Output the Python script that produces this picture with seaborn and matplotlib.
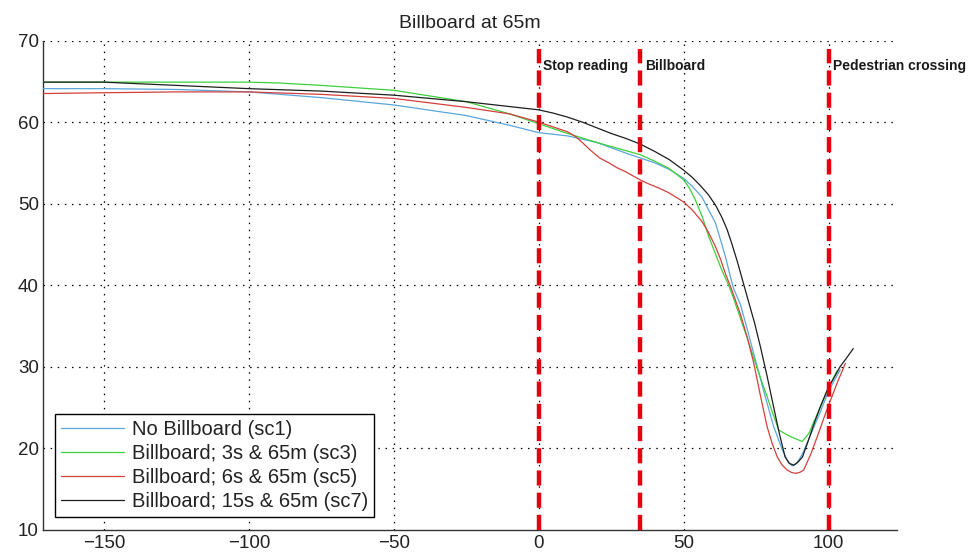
import matplotlib
matplotlib.use("Agg")
import matplotlib.pyplot as plt
import numpy as np
import pandas as pd
import seaborn as sns

# Series: distance (m) vs speed (km/h)
sc1_x = [-171, -150, -125, -100, -75, -50, -25, -10, 0, 10, 20, 30, 35, 40, 45, 50, 53, 56.3, 58.5,
         61, 63, 64.4, 66, 67.2, 69.6, 72, 75, 78, 81, 84, 86, 87.5, 89, 91, 94, 97, 100, 104]
sc1_y = [64.1, 64.1, 64.0, 63.7, 63.0, 62.1, 60.8, 59.6, 58.7, 58.3, 57.5, 56.2, 55.6, 55.0, 54.2, 53.1,
         52.1, 50.8, 49.3, 47.6, 45.2, 43.5, 41.2, 39.6, 37.6, 34.5, 30.5, 26.5, 22.7, 19.8, 18.3, 17.8,
         18.1, 19.3, 21.8, 24.3, 27.0, 29.6]

sc3_x = [-171, -150, -125, -100, -90, -75, -50, -25, -10, 0, 10, 20, 30, 35, 40, 45, 50, 52, 54.1,
         56.5, 58.7, 61, 63.2, 65.5, 67.2, 69.6, 72.2, 74.8, 76.8, 78.8, 80.8, 82.8, 84.8, 86.9, 88.9,
         90.9, 93.2, 95, 97.2, 100.7, 103]
sc3_y = [64.9, 64.9, 64.9, 64.9, 64.8, 64.5, 63.9, 62.5, 61.0, 59.8, 58.6, 57.5, 56.5, 56.0, 55.2, 54.3,
         52.9, 51.9, 50.4, 48.3, 45.9, 43.8, 41.8, 40.0, 38.4, 35.9, 33.2, 30.4, 28.3, 26.3, 24.2, 22.2,
         21.8, 21.4, 21.1, 20.8, 21.8, 23.3, 25.1, 27.9, 29.5]

sc5_x = [-171, -150, -125, -100, -75, -50, -25, -10, 0, 5, 10, 12.8, 15, 18, 21, 24.2, 27, 30, 33,
         35, 38, 41.5, 45, 50, 53, 56.3, 58.5, 61, 62.8, 64.4, 66.4, 68.4, 69.6, 72, 74.2, 76.5, 78.8,
         80.5, 82.3, 84, 85.7, 87.2, 88.6, 90, 91.4, 93.8, 96.1, 98.4, 100.7, 103.2, 105.8]
sc5_y = [63.5, 63.6, 63.7, 63.7, 63.4, 62.9, 61.8, 61.0, 60.0, 59.4, 58.8, 58.2, 57.5, 56.5, 55.6, 55.0,
         54.4, 53.9, 53.3, 52.9, 52.4, 51.9, 51.3, 50.2, 49.2, 47.8, 46.5, 44.7, 43.1, 41.4, 39.6, 37.6,
         36.4, 33.5, 30.4, 26.4, 22.6, 20.6, 18.9, 17.9, 17.3, 17.0, 16.9, 17.0, 17.3, 19.2, 21.4, 23.7,
         25.9, 28.2, 30.4]

sc7_x = [-171, -150, -144, -125, -100, -75, -50, -25, -10, 0, 5, 10, 15, 20, 25, 30, 35, 40, 45, 50,
         53, 55.5, 58.5, 61, 63.2, 65, 66.6, 68.5, 70, 72.2, 74.5, 76.5, 78.8, 81, 83, 85, 86.5, 88,
         89.5, 91, 93, 95, 97.2, 99.5, 101.8, 104, 106.3, 108.5]
sc7_y = [64.9, 64.9, 64.8, 64.5, 64.1, 63.8, 63.3, 62.5, 61.9, 61.5, 61.1, 60.6, 60.0, 59.3, 58.6, 58.0,
         57.3, 56.4, 55.4, 54.1, 53.2, 52.3, 51.1, 49.8, 48.3, 46.8, 45.1, 42.9, 41.0, 38.2, 35.3, 32.4,
         28.8, 25.1, 21.8, 18.9, 18.1, 17.9, 18.3, 18.9, 20.9, 23.0, 25.1, 27.1, 28.6, 30.0, 31.1, 32.2]

labels = ["No Billboard (sc1)", "Billboard; 3s & 65m (sc3)",
          "Billboard; 6s & 65m (sc5)", "Billboard; 15s & 65m (sc7)"]
colors = ["#5aa6dc", "#3dd03d", "#d2403c", "#1e1e1e"]

event_x = [0, 35, 100]
event_labels = ["Stop reading", "Billboard", "Pedestrian crossing"]
event_top = 69

x_ticks = [-150, -100, -50, 0, 50, 100]
y_ticks = [10, 20, 30, 40, 50, 60, 70]

frames = []
for lab, xs, ys in zip(labels, [sc1_x, sc3_x, sc5_x, sc7_x], [sc1_y, sc3_y, sc5_y, sc7_y]):
    frames.append(pd.DataFrame({"distance": xs, "speed": ys, "scenario": lab}))
df = pd.concat(frames, ignore_index=True)

sns.set_style("white")
plt.rcParams["font.family"] = ["Liberation Sans", "DejaVu Sans"]

fig = plt.figure(figsize=(9.73, 5.55), dpi=100)
ax = fig.add_axes([0.0442, 0.0459, 0.8774, 0.881])

sns.lineplot(data=df, x="distance", y="speed", hue="scenario", hue_order=labels,
             palette=dict(zip(labels, colors)), sort=False, estimator=None,
             linewidth=0.9, ax=ax, zorder=3)

ax.set_xlim(-171, 123.5)
ax.set_ylim(10, 70)
ax.set_xticks(x_ticks)
ax.set_yticks(y_ticks)
ax.set_xticklabels([f"\u2212{abs(t)}" if t < 0 else str(t) for t in x_ticks])
ax.set_xlabel("")
ax.set_ylabel("")

# dotted grid at every tick, including the top limit
for t in x_ticks:
    ax.plot([t, t], [10, 70], color="black", lw=0.9, linestyle=(0, (1.2, 4.5)), zorder=1)
for t in y_ticks[1:]:
    ax.plot([-171, 123.5], [t, t], color="black", lw=0.9, linestyle=(0, (1.2, 4.5)), zorder=1)

for ex, el in zip(event_x, event_labels):
    ax.plot([ex, ex], [10, event_top], color="#e3000f", lw=3.2,
            linestyle=(0, (3.4, 1.6)), zorder=4)
    ax.text(ex + 1.6, 66.9, el, fontsize=10, fontweight="bold", va="center", ha="left",
            color="#1a1a1a", zorder=5)

for s in ["top", "right"]:
    ax.spines[s].set_visible(False)
for s in ["left", "bottom"]:
    ax.spines[s].set_color("#333333")
    ax.spines[s].set_linewidth(1.0)

ax.tick_params(axis="both", direction="in", length=7, width=1.0, color="#333333",
               labelsize=13.5, labelcolor="#222222", pad=4)
ax.tick_params(axis="y", pad=3)

ax.set_title("Billboard at 65m", fontsize=14, color="#222222", pad=9)

sns.move_legend(ax, "lower left", bbox_to_anchor=(0.014, 0.0256), title=None,
                frameon=True, fancybox=False, framealpha=1, edgecolor="black",
                fontsize=14.5, handlelength=3.1, labelspacing=0.24, borderpad=0.31,
                handletextpad=0.4, borderaxespad=0)
leg = ax.get_legend()
leg.get_frame().set_linewidth(1.0)
for t in leg.get_texts():
    t.set_color("#222222")

fig.savefig("out.png", dpi=100)
